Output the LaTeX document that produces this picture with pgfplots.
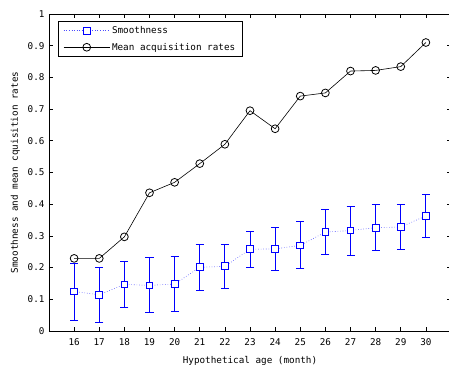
\documentclass[border=0pt]{standalone}
\usepackage{fontspec}
\setmainfont{DejaVu Sans Mono}
\usepackage{pgfplots}
\pgfplotsset{compat=1.18}
\usepackage{pgfplotstable}
\usetikzlibrary{calc}
\pgfplotstableread{
x y ep em
16 0.125 0.088 0.091
17 0.114 0.087 0.087
18 0.147 0.072 0.073
19 0.144 0.087 0.086
20 0.148 0.086 0.088
21 0.201 0.071 0.073
22 0.204 0.069 0.069
23 0.258 0.056 0.058
24 0.259 0.068 0.069
25 0.270 0.074 0.074
26 0.312 0.071 0.071
27 0.317 0.075 0.078
28 0.326 0.073 0.073
29 0.328 0.072 0.071
30 0.363 0.068 0.068
}\smoothtab
\pgfplotstableread{
x y
16 0.229
17 0.229
18 0.297
19 0.436
20 0.469
21 0.528
22 0.589
23 0.695
24 0.638
25 0.741
26 0.751
27 0.820
28 0.822
29 0.834
30 0.910
}\meantab
\begin{document}
\begin{tikzpicture}
\begin{axis}[name=ax,
  width=402bp, height=317bp, scale only axis,
  xmin=15, xmax=31, ymin=0, ymax=1,
  xtick={16,...,30},
  ytick={0,0.1,...,1.0},
  xticklabel={\pgfmathprintnumber[assume math mode=true]{\tick}},
  yticklabel={\pgfmathprintnumber[assume math mode=true,fixed,precision=1]{\tick}},
  tick align=inside,
  major tick length=4bp,
  tick style={black, line width=0.6pt},
  axis line style={black, line width=0.9pt},
  ticklabel style={font=\fontsize{9.3bp}{10bp}\selectfont},
  xticklabel style={yshift=-4bp},
  yticklabel style={xshift=-1bp},
  label style={font=\fontsize{9.3bp}{10bp}\selectfont},
  xlabel={Hypothetical age (month)},
  ylabel={Smoothness and mean cquisition rates},
  xlabel style={yshift=-4bp},
  ylabel style={yshift=1bp},
  legend image code/.code={\draw[mark repeat=2,mark phase=2,#1] plot coordinates {(0bp,0bp) (23bp,0bp) (46bp,0bp)};},
  legend style={at={(rel axis cs:0,1)}, anchor=north west, xshift=9bp, yshift=-7bp,
    draw=black, line width=0.9pt, font=\fontsize{9.3bp}{10bp}\selectfont,
    row sep=4bp, inner xsep=5bp, inner ysep=3bp, cells={anchor=west}},
  legend cell align=left,
]
\addplot[blue, only marks, mark=none, forget plot,
  error bars/.cd, y dir=both, y explicit,
  error bar style={solid, blue, line width=1pt}, error mark options={rotate=90, mark size=4bp, blue, line width=1pt}]
  table[x=x, y=y, y error plus=ep, y error minus=em]{\smoothtab};
\addplot[draw=blue!70, dotted, line width=0.6pt, mark=square*, mark size=3.4bp,
  mark options={solid, draw=blue, fill=white, line width=0.9pt}]
  table[x=x, y=y]{\smoothtab};
\addlegendentry{Smoothness}
\addplot[black, line width=0.6pt, mark=o, mark size=3.9bp, mark options={line width=0.8pt}]
  table[x=x, y=y]{\meantab};
\addlegendentry{Mean acquisition rates\hspace{9bp}}
\end{axis}
\pgfresetboundingbox
\useasboundingbox ($(ax.south west)+(-49bp,-34bp)$) rectangle ($(ax.north east)+(-2bp,14bp)$);
\end{tikzpicture}
\end{document}
